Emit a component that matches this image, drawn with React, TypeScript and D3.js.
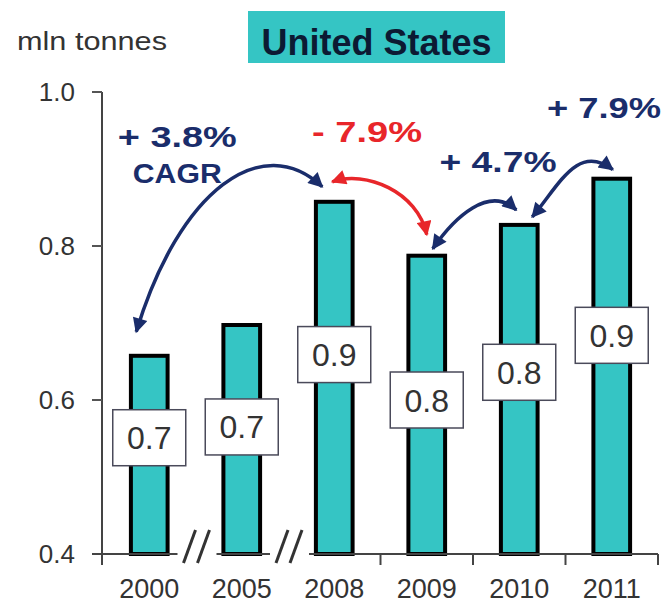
import React from "react";
import * as d3 from "d3";

const years = ["2000", "2005", "2008", "2009", "2010", "2011"];
const values = [0.66, 0.7, 0.86, 0.79, 0.83, 0.89];
const yTicks = [0.4, 0.6, 0.8, 1.0];
const breakBefore = ["2005", "2008"];
const title = "United States";
const unitLabel = "mln tonnes";

// annotation arrows between bars
const annFrom = ["2000", "2008", "2009", "2010"];
const annTo = ["2008", "2009", "2010", "2011"];
const annText = ["+ 3.8%", "- 7.9%", "+ 4.7%", "+ 7.9%"];
const annSub = ["CAGR", "", "", ""];

// layout (pixels) – not data
const W = 667, H = 604;
const NAVY = "#1a2d6b", RED = "#e8262a", TEAL = "#35c5c4", INK = "#333";
const FONT = "'Liberation Sans', Arial, Helvetica, sans-serif";
const labelCenterVal = [0.551, 0.565, 0.659, 0.6, 0.636, 0.684];
// arrow geometry offsets relative to bar tops/centers
const arrowStart = [[-13, -22], [-2, -18], [6, -5], [13, -6]];
const arrowEnd = [[-12, -13], [0, -19], [-3, -13], [1, -7]];
const ctrl1 = [[43, -142], [33, -12], [22, -32], [27, -32]];
const ctrl2 = [[-60, -57], [-9, -43], [-27, -25], [-35, -27]];
const textPos = [[-64.5, 147, 119], [-13.5, 142, 110], [25, 172, 117], [38.5, 118, 114]];

export default function App() {
  const x = d3.scaleBand<string>().domain(years).range([103, 658]).paddingInner(0.56).paddingOuter(0.28);
  const y = d3.scaleLinear().domain([0.4, 1.0]).range([554, 92]);
  const bw = x.bandwidth();
  const step = x.step();
  const gap = (step - bw) / 2;
  const fmt = d3.format(".1f");
  const axisY = y(0.4);
  const axisLeft = 102;
  const axisRight = (x(years[years.length - 1]) as number) + bw + gap;
  const cx = (yr: string) => (x(yr) as number) + bw / 2;
  const top = (yr: string) => y(values[years.indexOf(yr)]);

  // axis segments with breaks
  const breaks = breakBefore.map((yr) => (x(yr) as number) - gap);
  const segs: [number, number][] = [];
  let s = 92;
  breaks.forEach((b) => {
    segs.push([s, b - 18]);
    s = b + 21;
  });
  segs.push([s, axisRight]);
  const tickXs = years
    .filter((yr, i) => i > 0 && !breakBefore.includes(yr))
    .map((yr) => (x(yr) as number) - gap)
    .concat([axisRight]);

  return (
    <svg width={W} height={H} style={{ position: "absolute", left: 0, top: 0, background: "#fff" }} fontFamily={FONT}>
      <defs>
        {[["navy", NAVY], ["red", RED]].map(([id, c]) => (
          <marker key={id} id={`arr-${id}`} viewBox="0 0 10 10" refX={9} refY={5} markerUnits="userSpaceOnUse"
            markerWidth={17} markerHeight={15} orient="auto-start-reverse">
            <path d="M0,0 L10,5 L0,10 z" fill={c} />
          </marker>
        ))}
      </defs>

      {/* title */}
      <rect x={248} y={11} width={257} height={52} fill={TEAL} />
      <text x={376.5} y={55} textAnchor="middle" fontSize={36} fontWeight="bold" fill="#0c1a33">{title}</text>
      <text x={17} y={50} fontSize={25} fill={INK} textLength={150} lengthAdjust="spacingAndGlyphs">{unitLabel}</text>

      {/* y axis */}
      <line x1={axisLeft} x2={axisLeft} y1={y(1.0)} y2={axisY + 11} stroke="#444" strokeWidth={2} />
      {yTicks.map((t) => (
        <g key={t}>
          <line x1={92} x2={axisLeft} y1={y(t)} y2={y(t)} stroke="#555" strokeWidth={2} />
          <text x={75} y={y(t)} dy="0.36em" textAnchor="end" fontSize={26} fill={INK}>{fmt(t)}</text>
        </g>
      ))}

      {/* bars */}
      {years.map((yr, i) => (
        <rect key={yr} x={(x(yr) as number) + 2} y={y(values[i]) + 2} width={bw - 4}
          height={axisY - y(values[i]) - 2} fill={TEAL} stroke="#000" strokeWidth={4} />
      ))}

      {/* x axis */}
      {segs.map(([a, b], i) => (
        <line key={i} x1={a} x2={b} y1={axisY} y2={axisY} stroke="#444" strokeWidth={2} />
      ))}
      {tickXs.map((tx, i) => (
        <line key={i} x1={tx} x2={tx} y1={axisY} y2={axisY + 11} stroke="#444" strokeWidth={2} />
      ))}
      {breaks.map((b, i) => (
        <g key={i}>
          {[0, 1].map((k) => (
            <line key={k} x1={b - 12 + 14 * k} y1={axisY + 9} x2={b + 14 * k} y2={axisY - 24}
              stroke="#333" strokeWidth={3} />
          ))}
        </g>
      ))}
      {years.map((yr) => (
        <text key={yr} x={cx(yr)} y={598} textAnchor="middle" fontSize={27} fill={INK}>{yr}</text>
      ))}

      {/* value boxes */}
      {years.map((yr, i) => {
        const c = y(labelCenterVal[i]);
        return (
          <g key={yr}>
            <rect x={cx(yr) - 36.5} y={c - 28} width={73} height={56} fill="#fff" stroke="#4a4a5a" strokeWidth={1.5} />
            <text x={cx(yr)} y={c} dy="0.36em" textAnchor="middle" fontSize={32} fill={INK}>{fmt(values[i])}</text>
          </g>
        );
      })}

      {/* annotation arrows */}
      {annFrom.map((f, i) => {
        const t = annTo[i];
        const color = annText[i].startsWith("-") ? RED : NAVY;
        const id = color === RED ? "red" : "navy";
        const sx = cx(f) + arrowStart[i][0], sy = top(f) + arrowStart[i][1];
        const ex = cx(t) + arrowEnd[i][0], ey = top(t) + arrowEnd[i][1];
        const p = d3.path();
        p.moveTo(sx, sy);
        p.bezierCurveTo(sx + ctrl1[i][0], sy + ctrl1[i][1], ex + ctrl2[i][0], ey + ctrl2[i][1], ex, ey);
        const mid = (cx(f) + cx(t)) / 2 + textPos[i][0];
        return (
          <g key={i}>
            <path d={p.toString()} fill="none" stroke={color} strokeWidth={3.5}
              markerStart={`url(#arr-${id})`} markerEnd={`url(#arr-${id})`} />
            <text x={mid} y={textPos[i][1]} textAnchor="middle" fontSize={30} fontWeight="bold" fill={color}
              textLength={textPos[i][2]} lengthAdjust="spacingAndGlyphs">{annText[i]}</text>
            {annSub[i] && (
              <text x={mid} y={textPos[i][1] + 36} textAnchor="middle" fontSize={27} fontWeight="bold" fill={color}
                textLength={89} lengthAdjust="spacingAndGlyphs">{annSub[i]}</text>
            )}
          </g>
        );
      })}
    </svg>
  );
}
